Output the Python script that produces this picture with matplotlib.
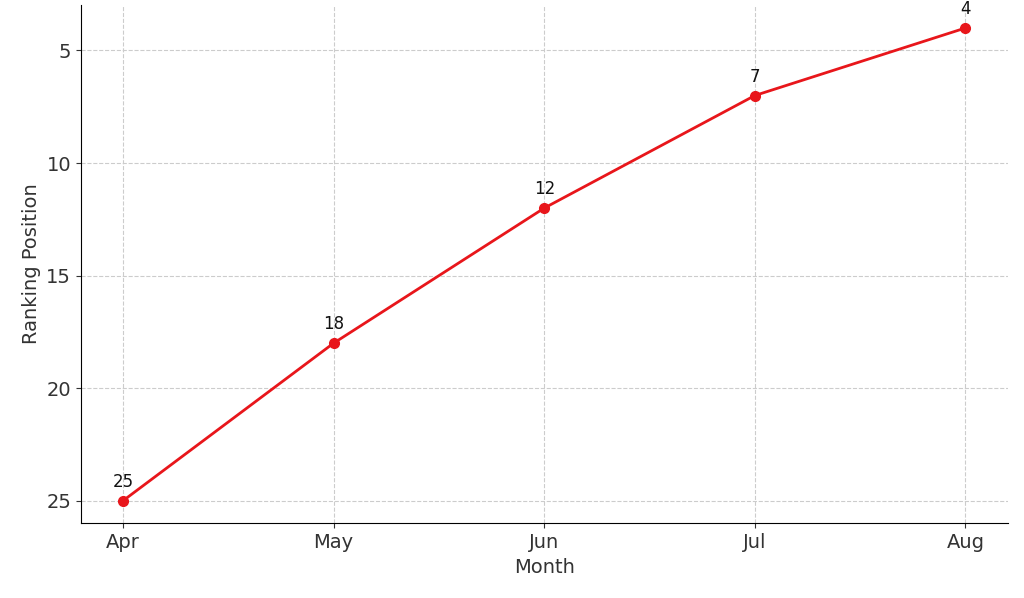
import matplotlib

matplotlib.use("Agg")
import matplotlib.pyplot as plt

months = ["Apr", "May", "Jun", "Jul", "Aug"]
ranking = [25, 18, 12, 7, 4]

fig = plt.figure(figsize=(10.24, 5.98), dpi=100)
ax = fig.add_axes([0.079, 0.125, 0.905, 0.867])

x = list(range(len(months)))
ax.plot(x, ranking, color="#e8161b", linewidth=2, marker="o", markersize=7)
for xi, yi in zip(x, ranking):
    ax.annotate(str(yi), (xi, yi), textcoords="offset points", xytext=(0, 10),
                ha="center", fontsize=12, color="#111111")

ax.set_xticks(x)
ax.set_xticklabels(months)
ax.set_yticks([5, 10, 15, 20, 25])
ax.set_xlim(-0.2, 4.2)
ax.set_ylim(26, 2.97)

ax.set_xlabel("Month", fontsize=14, color="#333333")
ax.set_ylabel("Ranking Position", fontsize=14, color="#333333")
ax.tick_params(labelsize=14, colors="#333333")
ax.grid(True, linestyle="--", color="#cccccc", linewidth=0.8)
ax.spines["top"].set_visible(False)
ax.spines["right"].set_visible(False)

fig.savefig("out.png", dpi=100)
